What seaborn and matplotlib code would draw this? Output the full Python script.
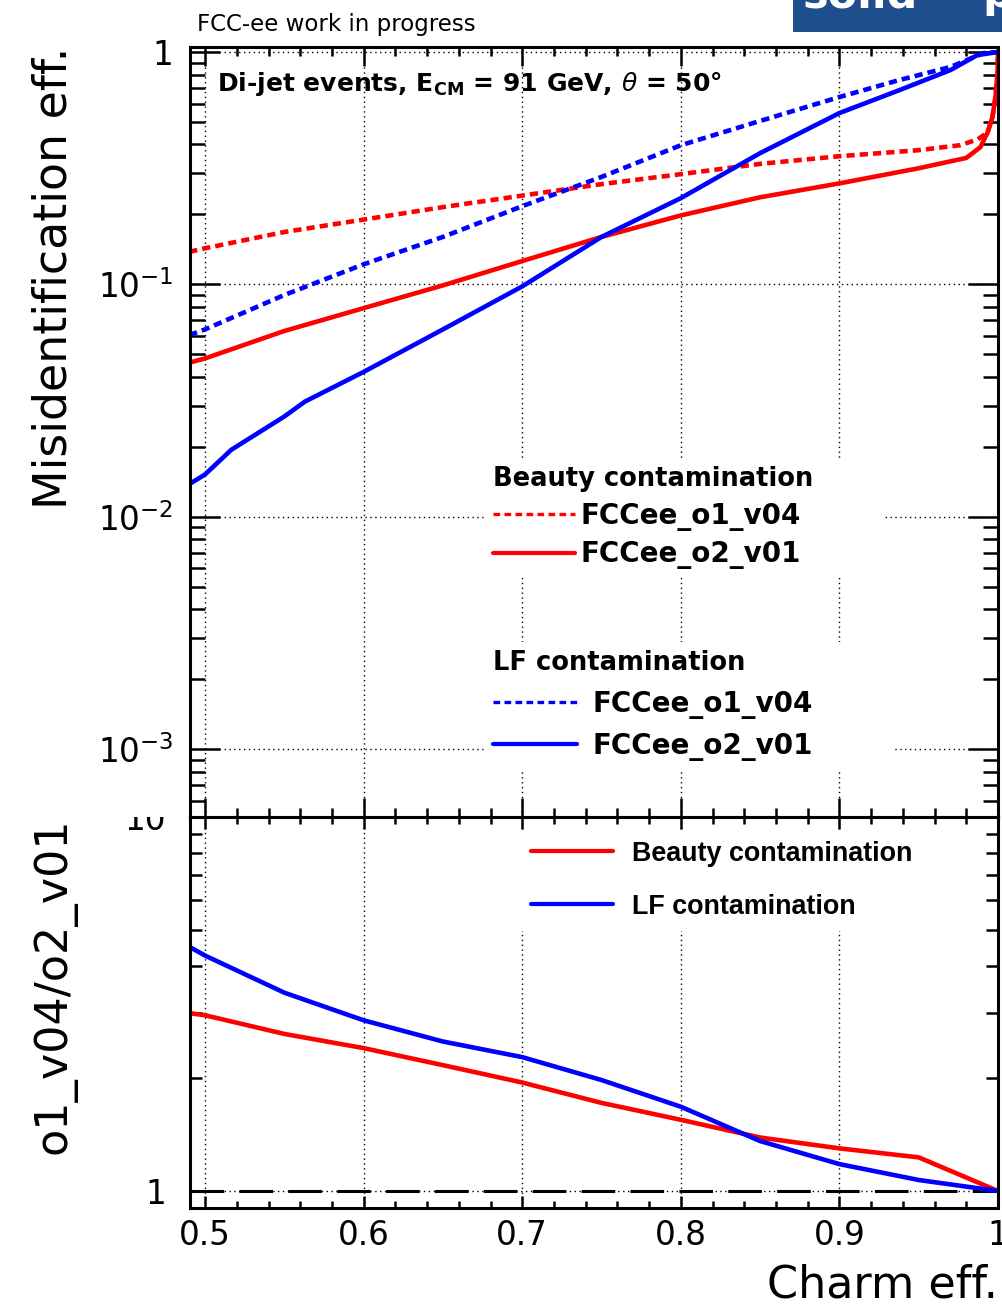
import matplotlib
matplotlib.use("Agg")
import matplotlib.pyplot as plt
import seaborn as sns
import numpy as np
import pandas as pd
from matplotlib.lines import Line2D
from matplotlib.patches import Rectangle
from matplotlib.transforms import Bbox, TransformedBbox
from matplotlib.ticker import MultipleLocator, FixedLocator, FixedFormatter, NullFormatter
from matplotlib.font_manager import FontProperties

# ---------------- data ----------------
# Beauty contamination, FCCee_o1_v04 (dotted red)
x_b_o1 = [0.49, 0.5, 0.55, 0.6, 0.65, 0.7, 0.75, 0.8, 0.85, 0.9, 0.95, 0.976, 0.987, 0.9934, 0.9965, 0.9984, 0.9997, 1.0]
y_b_o1 = [0.138, 0.143, 0.168, 0.19, 0.215, 0.241, 0.27, 0.298, 0.33, 0.356, 0.378, 0.397, 0.42, 0.45, 0.525, 0.64, 0.81, 1.0]
# Beauty contamination, FCCee_o2_v01 (solid red)
x_b_o2 = [0.49, 0.5, 0.55, 0.6, 0.65, 0.7, 0.75, 0.8, 0.85, 0.9, 0.95, 0.96, 0.98, 0.989, 0.9934, 0.9965, 0.9984, 0.9997, 1.0]
y_b_o2 = [0.046, 0.048, 0.063, 0.079, 0.099, 0.126, 0.16, 0.198, 0.237, 0.272, 0.316, 0.327, 0.35, 0.39, 0.45, 0.525, 0.64, 0.81, 1.0]
# LF contamination, FCCee_o1_v04 (dotted blue)
x_l_o1 = [0.49, 0.5, 0.55, 0.6, 0.65, 0.7, 0.75, 0.8, 0.85, 0.9, 0.938, 0.97, 0.991, 1.0]
y_l_o1 = [0.0605, 0.064, 0.09, 0.122, 0.16, 0.217, 0.29, 0.397, 0.505, 0.64, 0.758, 0.862, 0.99, 1.0]
# LF contamination, FCCee_o2_v01 (solid blue)
x_l_o2 = [0.49, 0.5, 0.5165, 0.55, 0.563, 0.6, 0.65, 0.7, 0.75, 0.8, 0.85, 0.9, 0.938, 0.97, 0.987, 1.0]
y_l_o2 = [0.0138, 0.0152, 0.0194, 0.027, 0.0313, 0.042, 0.064, 0.098, 0.16, 0.235, 0.367, 0.546, 0.686, 0.836, 0.97, 1.0]

# Ratio panel o1_v04 / o2_v01
x_ratio = [0.49, 0.5, 0.55, 0.6, 0.65, 0.7, 0.75, 0.8, 0.85, 0.9, 0.95, 1.0]
r_beauty = [2.99, 2.95, 2.63, 2.41, 2.17, 1.95, 1.72, 1.55, 1.39, 1.30, 1.23, 1.0]
r_lf = [4.5, 4.26, 3.39, 2.86, 2.51, 2.28, 1.98, 1.68, 1.36, 1.18, 1.07, 1.0]
ratio_ref = 1.0

top_yticks = [1e-3, 1e-2, 1e-1, 1]
top_yticklabels = [r"$10^{-3}$", r"$10^{-2}$", r"$10^{-1}$", "1"]
bot_yticks = [1, 10]
bot_yticklabels = ["1", "10"]
xticks = [0.5, 0.6, 0.7, 0.8, 0.9, 1.0]
xticklabels = ["0.5", "0.6", "0.7", "0.8", "0.9", "1"]

# ---------------- style ----------------
sns.set_style("white")
plt.rcParams["font.family"] = ["DejaVu Sans"]
plt.rcParams["mathtext.fontset"] = "dejavusans"
for k in ["text.color", "axes.labelcolor", "xtick.color", "ytick.color", "axes.edgecolor"]:
    plt.rcParams[k] = "black"

W, H = 1003, 1307
fig = plt.figure(figsize=(W / 100, H / 100), dpi=100)

def fx(px):
    return px / W

def fy(py):
    return 1 - py / H

ax1 = fig.add_axes([fx(190), fy(817), fx(998) - fx(190), fy(47) - fy(817)])
ax2 = fig.add_axes([fx(190), fy(1208), fx(998) - fx(190), fy(817) - fy(1208)])

dotted = (0, (1.8, 1.1))
lw = 3.3

def df(x, y):
    return pd.DataFrame({"x": x, "y": y})

sns.lineplot(data=df(x_b_o1, y_b_o1), x="x", y="y", ax=ax1, color="red", lw=lw, linestyle=dotted, estimator=None, sort=False)
sns.lineplot(data=df(x_b_o2, y_b_o2), x="x", y="y", ax=ax1, color="red", lw=lw, estimator=None, sort=False)
sns.lineplot(data=df(x_l_o1, y_l_o1), x="x", y="y", ax=ax1, color="blue", lw=lw, linestyle=dotted, estimator=None, sort=False)
sns.lineplot(data=df(x_l_o2, y_l_o2), x="x", y="y", ax=ax1, color="blue", lw=lw, estimator=None, sort=False)

ax2.axhline(ratio_ref, color="black", lw=2.2, linestyle=(0, (11, 5)), zorder=1.5)
sns.lineplot(data=df(x_ratio, r_beauty), x="x", y="y", ax=ax2, color="red", lw=lw, estimator=None, sort=False)
sns.lineplot(data=df(x_ratio, r_lf), x="x", y="y", ax=ax2, color="blue", lw=lw, estimator=None, sort=False)

grid_ls = (0, (1, 2.5))
for ax in (ax1, ax2):
    ax.set_xlim(0.4905, 1.0)
    ax.set_yscale("log")
    ax.xaxis.set_major_locator(FixedLocator(xticks))
    ax.xaxis.set_minor_locator(MultipleLocator(0.02))
    ax.grid(True, which="major", color="black", lw=1.0, linestyle=grid_ls)
    ax.set_axisbelow(True)
    for s in ax.spines.values():
        s.set_linewidth(2.2)
        s.set_color("black")
    ax.set_xlabel("")
    ax.set_ylabel("")

ax1.set_ylim(5.1e-4, 1.0508)
ax1.yaxis.set_major_locator(FixedLocator(top_yticks))
ax1.yaxis.set_major_formatter(FixedFormatter(top_yticklabels))
minors = [m * 10.0 ** e for e in range(-4, 1) for m in range(2, 10)]
ax1.yaxis.set_minor_locator(FixedLocator(minors))
ax1.yaxis.set_minor_formatter(NullFormatter())
ax1.xaxis.set_major_formatter(NullFormatter())
ax1.tick_params(axis="x", which="major", direction="in", length=13.7, width=1.8, top=True, bottom=True)
ax1.tick_params(axis="x", which="minor", direction="in", length=6.5, width=1.8, top=True, bottom=True)
ax1.tick_params(axis="y", which="major", direction="in", length=21.6, width=1.8, left=True, right=True, labelsize=23.5, pad=12)
ax1.tick_params(axis="y", which="minor", direction="in", length=10.8, width=1.8, left=True, right=True)

ax2.set_ylim(0.9006, 10)
ax2.yaxis.set_major_locator(FixedLocator(bot_yticks))
ax2.yaxis.set_major_formatter(FixedFormatter(bot_yticklabels))
ax2.yaxis.set_minor_locator(FixedLocator([m for m in range(2, 10)]))
ax2.yaxis.set_minor_formatter(NullFormatter())
ax2.xaxis.set_major_formatter(FixedFormatter(xticklabels))
ax2.tick_params(axis="x", which="major", direction="in", length=8.6, width=1.8, top=True, bottom=True, labelsize=23.5, pad=8)
ax2.tick_params(axis="x", which="minor", direction="in", length=5.0, width=1.8, top=True, bottom=True)
ax2.tick_params(axis="y", which="major", direction="in", length=12, width=1.8, left=True, right=True, labelsize=23.5, pad=17)
ax2.tick_params(axis="y", which="minor", direction="in", length=8.6, width=1.8, left=True, right=True)

# clip the bottom panel's "10" label at the panel boundary like the original
clipbb = TransformedBbox(Bbox([[0, 0], [1, fy(817)]]), fig.transFigure)
for t in ax2.yaxis.get_major_ticks():
    t.label1.set_clip_on(True)
    t.label1.set_clip_box(clipbb)

# axis titles
ax1.set_ylabel("Misidentification eff.", fontsize=33, loc="top")
ax1.yaxis.set_label_coords((77 - 190) / 808, 1.0)
ax2.set_ylabel("o1_v04/o2_v01", fontsize=32, loc="top")
ax2.yaxis.set_label_coords((77 - 190) / 808, 1.0)
ax2.set_xlabel("Charm eff.", fontsize=32, loc="right")
ax2.xaxis.set_label_coords(1.0, (1208 - 1264) / 391)

# texts
ax1.text((217 - 190) / 808, (817 - 91) / 770,
         r"Di-jet events, E$_{\mathbf{CM}}$ = 91 GeV, $\theta$ = 50°",
         fontsize=18, fontweight="bold", va="baseline", ha="left", transform=ax1.transAxes)
fig.text(fx(197), fy(31), "FCC-ee work in progress", fontsize=16.5, va="baseline", ha="left")

# top-right banner fragment
fig.add_artist(Rectangle((fx(793), fy(32)), fx(1003) - fx(793), 32 / H, transform=fig.transFigure,
                         facecolor="#1f4e8c", edgecolor="none", zorder=5))
fig.text(fx(803), fy(7), "solid", color="white", fontsize=31, fontweight="bold", va="baseline", ha="left", zorder=6)
fig.text(fx(982), fy(7), "p", color="white", fontsize=31, fontweight="bold", va="baseline", ha="left", zorder=6)

# legends
bold20 = FontProperties(family="DejaVu Sans", weight="bold", size=20)
bold185 = FontProperties(family="DejaVu Sans", weight="bold", size=18.5)
hb = [Line2D([], [], color="red", lw=2.4, linestyle=(0, (2.0, 1.3))), Line2D([], [], color="red", lw=3.0)]
leg1 = ax1.legend(hb, ["FCCee_o1_v04", "FCCee_o2_v01"], title="Beauty contamination",
                  loc="upper left", bbox_to_anchor=((485 - 190) / 808, (817 - 577) / 770, 400 / 808, (577 - 458) / 770),
                  mode="expand", frameon=True, fancybox=False, framealpha=1, edgecolor="none", facecolor="white",
                  prop=bold20, title_fontproperties=bold185, handlelength=2.95, handletextpad=0.2,
                  labelspacing=0.34, borderpad=0.3, borderaxespad=0, alignment="left")
ax1.add_artist(leg1)
hl = [Line2D([], [], color="blue", lw=2.4, linestyle=(0, (2.0, 1.3))), Line2D([], [], color="blue", lw=3.0)]
leg2 = ax1.legend(hl, ["FCCee_o1_v04", "FCCee_o2_v01"], title="LF contamination",
                  loc="upper left", bbox_to_anchor=((485 - 190) / 808, (817 - 772) / 770, 408 / 808, (772 - 642) / 770),
                  mode="expand", frameon=True, fancybox=False, framealpha=1, edgecolor="none", facecolor="white",
                  prop=bold20, title_fontproperties=bold185, handlelength=3.0, handletextpad=0.58,
                  labelspacing=0.48, borderpad=0.3, borderaxespad=0, alignment="left")
ax1.add_artist(leg2)

lib19 = FontProperties(family="Liberation Sans", weight="bold", size=19.4)
hr = [Line2D([], [], color="red", lw=3.0), Line2D([], [], color="blue", lw=3.0)]
leg3 = ax2.legend(hr, ["Beauty contamination", "LF contamination"],
                  loc="upper left", bbox_to_anchor=((520 - 190) / 808, (1208 - 934) / 391, 410 / 808, (934 - 830) / 391),
                  mode="expand", frameon=True, fancybox=False, framealpha=1, edgecolor="none", facecolor="white",
                  prop=lib19, handlelength=3.04, handletextpad=0.7, labelspacing=1.0, borderpad=0.4, borderaxespad=0)

fig.savefig("out.png", dpi=100)
